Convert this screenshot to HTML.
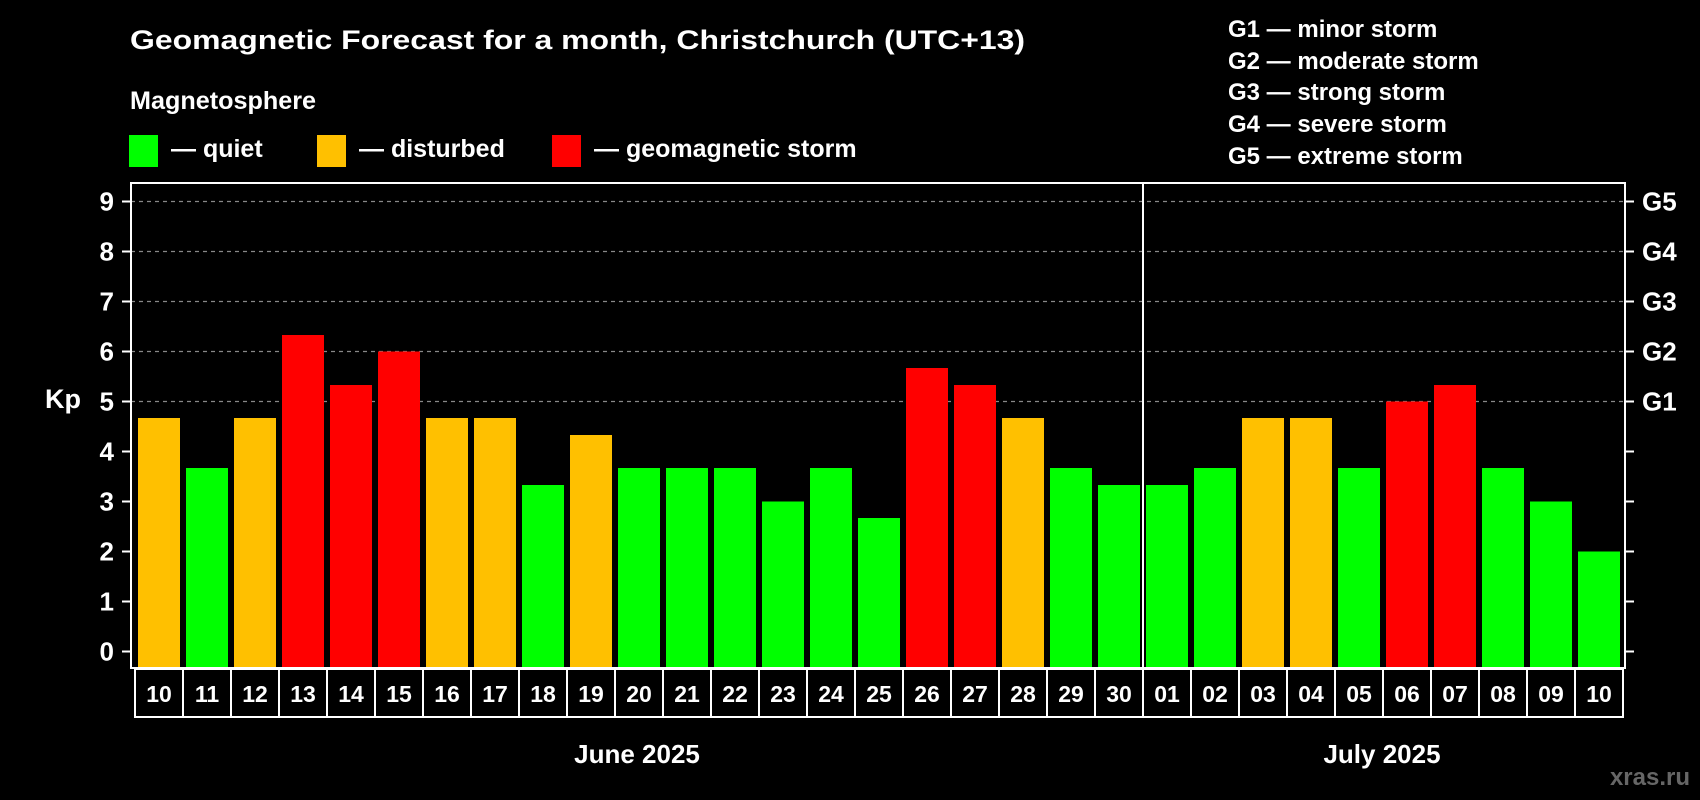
<!DOCTYPE html>
<html><head><meta charset="utf-8"><style>
html,body{margin:0;padding:0;background:#000;}
svg{display:block;font-family:"Liberation Sans",Arial,sans-serif;font-weight:bold;}
</style></head><body>
<svg id="chart" width="1700" height="800" viewBox="0 0 1700 800" xmlns="http://www.w3.org/2000/svg">
<rect width="1700" height="800" fill="#000"/>
<text x="130" y="49" fill="#fff" font-size="27" textLength="895" lengthAdjust="spacingAndGlyphs">Geomagnetic Forecast for a month, Christchurch (UTC+13)</text>
<text x="130" y="109" fill="#fff" font-size="25" textLength="186" lengthAdjust="spacingAndGlyphs">Magnetosphere</text>
<g><rect x="129" y="135" width="29" height="32" fill="#00ff00"/><text x="171" y="157" fill="#fff" font-size="25">— quiet</text></g>
<g><rect x="317" y="135" width="29" height="32" fill="#ffc000"/><text x="359" y="157" fill="#fff" font-size="25">— disturbed</text></g>
<g><rect x="552" y="135" width="29" height="32" fill="#ff0000"/><text x="594" y="157" fill="#fff" font-size="25">— geomagnetic storm</text></g>
<g fill="#fff" font-size="24">
<text x="1228" y="37">G1 — minor storm</text>
<text x="1228" y="69">G2 — moderate storm</text>
<text x="1228" y="100">G3 — strong storm</text>
<text x="1228" y="132">G4 — severe storm</text>
<text x="1228" y="164">G5 — extreme storm</text>
</g>
<text x="63" y="408" fill="#fff" font-size="27" text-anchor="middle">Kp</text>
<g id="grid"></g>
<g id="bars"></g>
<rect x="131" y="183" width="1494" height="485" fill="none" stroke="#fff" stroke-width="2"/>
<line x1="1143" y1="183" x2="1143" y2="668" stroke="#fff" stroke-width="2"/>
<g id="axes"></g>
<g id="xlabels"></g>
<text x="637" y="763" fill="#fff" font-size="26" text-anchor="middle">June 2025</text>
<text x="1382" y="763" fill="#fff" font-size="26" text-anchor="middle">July 2025</text>
<text x="1690" y="785" fill="#666" font-size="24" text-anchor="end">xras.ru</text>
</svg>
<script>
const days = ["10","11","12","13","14","15","16","17","18","19","20","21","22","23","24","25","26","27","28","29","30","01","02","03","04","05","06","07","08","09","10"];
const kpValues = [4.67,3.67,4.67,6.33,5.33,6,4.67,4.67,3.33,4.33,3.67,3.67,3.67,3,3.67,2.67,5.67,5.33,4.67,3.67,3.33,3.33,3.67,4.67,4.67,3.67,5,5.33,3.67,3,2];
const yTicks = [0,1,2,3,4,5,6,7,8,9];
const gLabels = ["","","","","","G1","G2","G3","G4","G5"];

const NS="http://www.w3.org/2000/svg";
const X0=135, STEP=48, BARW=42, BOTTOM=668;
function yScale(v){return 651.5-50*v;}
function xScale(i){return X0+i*STEP;}
function mk(tag,attrs,parent){const e=document.createElementNS(NS,tag);for(const k in attrs)e.setAttribute(k,attrs[k]);parent.appendChild(e);return e;}
function color(v){return v>=5?"#ff0000":(v>=4?"#ffc000":"#00ff00");}

const grid=document.getElementById('grid'), axes=document.getElementById('axes'), bars=document.getElementById('bars'), xl=document.getElementById('xlabels');
yTicks.forEach(t=>{
  const y=yScale(t);
  if(t>=5){
    const g=mk('line',{x1:131,x2:1625,y1:y,y2:y,stroke:'#888','stroke-width':1.2,'stroke-dasharray':'4,4'},grid);
    
    
  }
  const tl=mk('line',{x1:122,x2:131,y1:y,y2:y,stroke:'#fff','stroke-width':2},axes);
  
  
  const tr=mk('line',{x1:1625,x2:1634,y1:y,y2:y,stroke:'#fff','stroke-width':2},axes);
  
  
  const lb=mk('text',{x:114,y:y+9,fill:'#fff','font-size':26,'text-anchor':'end'},axes);
  lb.textContent=t;
  
  
  if(gLabels[t]){
    const gl=mk('text',{x:1642,y:y+9,fill:'#fff','font-size':26},axes);
    gl.textContent=gLabels[t];
    
    
  }
});
kpValues.forEach((v,i)=>{
  const x=xScale(i)+(STEP-BARW)/2, top=yScale(v);
  const b=mk('rect',{x:x,y:top,width:BARW,height:BOTTOM-top,fill:color(v)},bars);
  
  
});
days.forEach((d,i)=>{
  const bx=mk('rect',{x:xScale(i),y:669,width:STEP,height:48,fill:'none',stroke:'#fff','stroke-width':2},xl);
  
  
  const t=mk('text',{x:xScale(i)+STEP/2,y:702,fill:'#fff','font-size':23,'text-anchor':'middle'},xl);
  t.textContent=d;
  
  
});
</script>
</body></html>
